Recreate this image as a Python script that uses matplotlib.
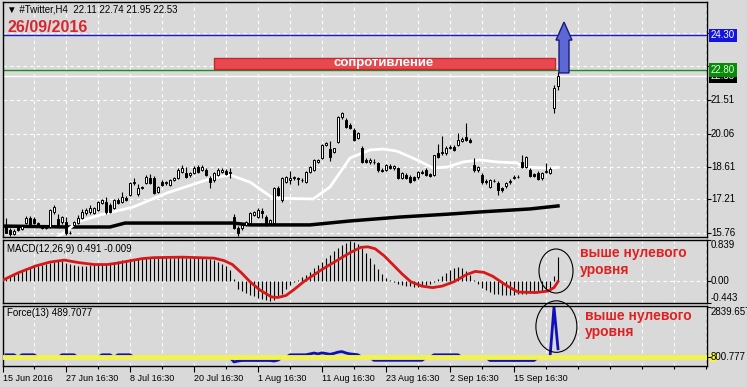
import matplotlib
matplotlib.use("Agg")
import numpy as np
import matplotlib.pyplot as plt
import matplotlib.transforms as mtrans
from matplotlib.patches import Rectangle, Polygon, Ellipse

plt.rcParams['font.family'] = ['Liberation Sans', 'DejaVu Sans']

W, H = 747, 387
bg = '#d9d9d9'

# H4 bars, 15 Jun - 26 Sep 2016
opens = [16.11, 15.89, 15.72, 16.02, 15.93, 16.19, 16.41, 16.37, 16.19, 16.06,
         15.98, 16.02, 16.67, 16.35, 16.23, 16.23, 15.78, 16.11, 16.19, 16.41,
         16.62, 16.67, 16.62, 16.75, 17.06, 17.10, 16.97, 16.84, 17.19, 17.10,
         17.27, 17.40, 17.92, 17.45, 17.72, 17.92, 18.14, 18.14, 17.53, 17.96,
         17.92, 17.83, 18.05, 18.14, 18.40, 18.35, 18.27, 18.35, 18.61, 18.48,
         18.48, 18.14, 18.05, 18.27, 18.40, 18.44, 18.35, 16.45, 15.98, 15.98,
         16.11, 16.19, 16.54, 16.45, 16.70, 16.45, 16.19, 16.19, 17.70, 17.19,
         17.96, 18.05, 18.14, 18.14, 18.05, 17.96, 18.40, 18.48, 18.83, 19.00,
         19.56, 19.40, 19.26, 19.69, 20.77, 20.64, 20.43, 20.21, 19.87, 19.43,
         18.92, 18.83, 18.85, 18.79, 18.48, 18.48, 18.66, 18.57, 18.57, 18.14,
         18.27, 18.18, 18.18, 18.18, 18.40, 18.48, 18.31, 18.27, 19.22, 19.22,
         19.22, 19.43, 19.48, 19.56, 19.74, 19.91, 19.78, 18.70, 18.48, 18.27,
         18.01, 17.75, 18.01, 17.92, 17.70, 17.79, 17.96, 18.14, 18.18, 18.83,
         18.61, 18.48, 18.31, 18.35, 18.14, 18.40, 18.35, 21.15, 22.11]
highs = [16.41, 15.98, 15.92, 16.10, 16.12, 16.50, 16.48, 16.45, 16.25, 16.12,
         16.05, 16.80, 16.95, 16.60, 16.50, 16.45, 15.85, 16.30, 16.55, 16.80,
         16.85, 16.95, 16.90, 17.15, 17.25, 17.30, 17.05, 17.22, 17.28, 17.53,
         17.36, 17.96, 18.14, 17.90, 17.80, 18.25, 18.30, 18.22, 17.78, 18.05,
         18.00, 18.10, 18.20, 18.55, 18.70, 18.62, 18.40, 18.65, 18.70, 18.70,
         18.55, 18.22, 18.40, 18.55, 18.55, 18.52, 18.57, 16.60, 16.05, 16.20,
         16.30, 16.67, 16.72, 16.85, 16.84, 16.55, 16.38, 17.75, 17.80, 18.20,
         18.22, 18.45, 18.22, 18.20, 18.12, 18.45, 18.65, 18.95, 18.98, 19.60,
         19.70, 19.72, 19.45, 20.80, 21.00, 20.75, 20.50, 20.30, 20.12, 19.50,
         19.00, 19.00, 18.95, 18.85, 18.55, 18.75, 18.75, 18.72, 18.62, 18.40,
         18.35, 18.25, 18.22, 18.45, 18.48, 18.55, 18.35, 19.15, 19.60, 19.95,
         19.50, 19.55, 19.55, 20.10, 19.90, 20.52, 19.85, 19.00, 18.65, 18.35,
         18.10, 18.10, 18.08, 18.00, 17.75, 17.98, 18.08, 18.25, 18.25, 19.13,
         19.10, 18.55, 18.35, 18.45, 18.40, 18.80, 18.60, 22.15, 22.74]
lows = [15.74, 15.65, 15.68, 15.85, 15.88, 16.15, 16.12, 16.15, 16.02, 15.95,
        15.93, 15.98, 16.60, 16.05, 16.15, 15.67, 15.70, 16.05, 16.15, 16.37,
        16.55, 16.60, 16.58, 16.70, 17.00, 16.60, 16.62, 16.80, 17.00, 17.05,
        17.15, 17.35, 17.85, 17.38, 17.65, 17.88, 17.88, 17.45, 17.48, 17.80,
        17.85, 17.80, 18.00, 18.10, 18.35, 18.15, 18.20, 18.30, 18.35, 18.44,
        18.22, 17.70, 17.98, 18.22, 18.35, 18.28, 18.14, 15.95, 15.62, 15.90,
        16.05, 16.15, 16.50, 16.40, 16.41, 16.05, 16.15, 16.15, 17.35, 17.10,
        17.92, 17.90, 18.05, 17.83, 17.95, 17.92, 18.35, 18.44, 18.78, 18.95,
        19.50, 18.88, 19.20, 19.65, 20.70, 20.30, 20.25, 19.75, 19.82, 18.80,
        18.78, 18.75, 18.75, 18.40, 18.38, 18.44, 18.52, 18.50, 18.10, 18.10,
        18.10, 17.92, 18.00, 18.10, 18.30, 18.22, 18.18, 18.22, 19.00, 19.15,
        19.15, 19.40, 19.30, 19.50, 19.68, 19.72, 19.65, 18.40, 18.40, 17.90,
        17.90, 17.70, 17.95, 17.40, 17.55, 17.72, 17.90, 18.10, 18.12, 18.55,
        18.55, 18.20, 18.18, 18.05, 18.05, 18.35, 18.30, 20.95, 21.95]
closes = [15.78, 15.70, 15.85, 15.89, 16.06, 16.41, 16.15, 16.19, 16.06, 15.98,
          16.01, 16.75, 16.88, 16.11, 16.45, 15.76, 15.74, 16.23, 16.41, 16.67,
          16.75, 16.84, 16.84, 17.10, 17.19, 16.67, 16.67, 17.19, 17.06, 17.32,
          17.19, 17.92, 17.96, 17.70, 17.75, 18.18, 17.92, 17.49, 17.75, 17.83,
          17.96, 18.05, 18.14, 18.48, 18.57, 18.18, 18.35, 18.57, 18.40, 18.61,
          18.27, 17.96, 18.35, 18.48, 18.48, 18.31, 18.40, 15.98, 15.76, 16.11,
          16.23, 16.62, 16.67, 16.75, 16.62, 16.11, 16.32, 17.70, 17.40, 18.14,
          18.18, 18.14, 18.18, 18.09, 18.07, 18.40, 18.61, 18.92, 18.92, 19.56,
          19.65, 19.05, 19.43, 20.77, 20.95, 20.34, 20.30, 19.78, 20.08, 18.83,
          18.83, 18.92, 18.83, 18.48, 18.46, 18.70, 18.57, 18.66, 18.14, 18.35,
          18.14, 17.96, 18.05, 18.40, 18.35, 18.27, 18.22, 19.13, 19.05, 19.26,
          19.43, 19.48, 19.35, 19.78, 19.82, 19.78, 19.69, 18.48, 18.61, 17.96,
          17.96, 18.05, 18.00, 17.62, 17.62, 17.92, 18.01, 18.18, 18.20, 18.61,
          19.05, 18.22, 18.22, 18.09, 18.35, 18.44, 18.52, 22.05, 22.53]

# moving averages (bar index, price)
ma_fast_idx = [11.75, 14.75, 17.75, 23.5, 31.75, 40.25, 48.5, 51.75, 56, 61, 66.75,
               76.75, 81, 86, 91, 94.25, 97.75, 102.75, 106.75, 110.25, 114.25,
               118.5, 122.75, 127.75, 129.25, 135.25, 138]
ma_fast_val = [15.46, 15.80, 16.23, 16.54, 16.88, 17.49, 17.96, 18.14, 18.27, 17.96, 17.27,
               17.23, 17.75, 19.00, 19.35, 19.39, 19.30, 18.92, 18.57, 18.61, 18.83,
               18.92, 18.83, 18.79, 18.61, 18.57, 18.60]
ma_slow_idx = [-0.75, 15.25, 26, 29.75, 51, 56.75, 61, 76, 86, 98.5, 111, 118.5, 131, 138]
ma_slow_val = [16.06, 16.02, 16.02, 16.19, 16.19, 16.19, 16.11, 16.11, 16.28, 16.45,
               16.58, 16.67, 16.80, 16.93]

# MACD(12,26,9)
macd_hist = [0.06, 0.10, 0.15, 0.19, 0.23, 0.26, 0.28, 0.30, 0.32, 0.34,
             0.36, 0.38, 0.40, 0.41, 0.41, 0.38, 0.35, 0.33, 0.32, 0.32,
             0.32, 0.33, 0.33, 0.34, 0.35, 0.36, 0.38, 0.40, 0.42, 0.43,
             0.44, 0.45, 0.46, 0.47, 0.48, 0.48, 0.48, 0.48, 0.48, 0.49,
             0.49, 0.48, 0.48, 0.49, 0.49, 0.48, 0.48, 0.48, 0.47, 0.47,
             0.46, 0.45, 0.43, 0.40, 0.36, 0.31, 0.22, 0.05, -0.15, -0.20,
             -0.24, -0.28, -0.31, -0.34, -0.37, -0.39, -0.40, -0.38, -0.33, -0.25,
             -0.15, -0.07, -0.02, 0.03, 0.08, 0.13, 0.19, 0.26, 0.33, 0.40,
             0.47, 0.54, 0.61, 0.67, 0.73, 0.78, 0.81, 0.80, 0.76, 0.68,
             0.58, 0.47, 0.36, 0.25, 0.15, 0.07, 0.02, -0.02, -0.05, -0.07,
             -0.09, -0.10, -0.11, -0.11, -0.10, -0.08, -0.05, -0.01, 0.04, 0.10,
             0.16, 0.22, 0.26, 0.28, 0.26, 0.20, 0.12, 0.03, -0.06, -0.13,
             -0.18, -0.22, -0.25, -0.27, -0.28, -0.29, -0.29, -0.28, -0.27, -0.26,
             -0.25, -0.24, -0.23, -0.22, -0.21, -0.20, -0.19, 0.10, 0.491]
sig_idx = [-0.6, 3, 7.4, 11, 14.6, 18.1, 22, 25.3, 28, 30.6, 34, 36.9, 44, 52, 54.5,
           56.6, 59, 61, 63.5, 66.4, 68, 70, 72, 74.4, 79, 83.3, 86, 88.7, 90.5, 92.3,
           94.5, 96.7, 99, 101.2, 104, 106.6, 109, 112, 115, 117.3, 119.5, 121.7,
           125, 128, 132.5, 135.5, 137, 138]
sig_val = [0.03, 0.17, 0.31, 0.39, 0.43, 0.38, 0.34, 0.34, 0.37, 0.41, 0.46, 0.48, 0.49,
           0.47, 0.42, 0.34, 0.16, -0.01, -0.18, -0.32, -0.33, -0.29, -0.17, -0.01,
           0.24, 0.45, 0.58, 0.69, 0.70, 0.66, 0.52, 0.34, 0.15, -0.01, -0.10, -0.13,
           -0.10, -0.01, 0.13, 0.20, 0.18, 0.10, -0.08, -0.22, -0.23, -0.20, -0.13,
           -0.009]

# Force(13)
force = [150, 150, 150, 0, 150, 150, 150, 150, 0, 0,
         0, 0, 0, 0, 150, 150, 150, 150, 0, 0,
         0, 0, 0, 0, 150, 150, 150, 0, 150, 150,
         150, 150, 0, 0, 0, 0, 0, 0, 0, 0,
         0, 0, 0, 0, 0, 0, 0, 0, 0, 0,
         0, 0, 0, 0, 0, 0, 0, -250, -200, -170,
         -170, -170, -170, -170, -170, -170, -170, -200, -150, 0,
         0, 150, 150, 150, 150, 150, 200, 250, 200, 260,
         220, 180, 230, 300, 330, 250, 200, 180, 150, 0,
         0, 0, -160, -160, -160, -160, -160, -160, -160, -160,
         -160, -160, -160, -160, -160, 0, 0, 150, 150, 150,
         150, 150, 150, 150, 0, 0, 0, 0, 0, 0,
         0, -170, -170, -170, -170, -170, -170, -170, -170, -170,
         -170, -170, -170, 0, 0, 0, 0, 2839.657, 489.7077]

price_ticks = [15.76, 17.21, 18.61, 20.06, 21.51, 22.96, 24.41]
price_labels = ['15.76', '17.21', '18.61', '20.06', '21.51']
date_idx = [-0.75, 15, 31, 47, 63, 79, 95, 111, 127]
date_labels = ['15 Jun 2016', '27 Jun 16:30', '8 Jul 16:30', '20 Jul 16:30', '1 Aug 16:30',
               '11 Aug 16:30', '23 Aug 16:30', '2 Sep 16:30', '15 Sep 16:30']
resistance = (22.85, 23.33)
blue_level = 24.30
green_level = 22.80
last_price = 22.53

idx = np.arange(len(closes))
grid_idx = np.arange(7, 176, 8)
lab_x = (711 - 3) / 704

fig = plt.figure(figsize=(W / 100, H / 100), dpi=100, facecolor=bg)


def panel(top, bottom):
    a = fig.add_axes([3 / W, 1 - bottom / H, 704 / W, (bottom - top) / H])
    a.set_facecolor(bg)
    for s in a.spines.values():
        s.set_color('black')
        s.set_linewidth(1)
    a.set_xlim(-0.75, 175.25)
    a.yaxis.tick_right()
    a.tick_params(axis='y', length=3, width=0.8, labelright=False, direction='out')
    a.tick_params(axis='x', bottom=False, labelbottom=False)
    for g in grid_idx:
        a.axvline(g, color='white', lw=0.8, ls=(0, (3, 3)), zorder=0.5)
    return a


def rlabel(a, y, s, va='center', **kw):
    tr = mtrans.blended_transform_factory(a.transAxes, a.transData)
    a.text(lab_x, y, s, transform=tr, va=va, ha='left', fontsize=7,
           clip_on=False, **kw)


# ---- price panel
ax = panel(2, 237)
ax.set_ylim(15.587, 25.747)
ax.set_yticks(price_ticks)
for p in price_ticks:
    ax.axhline(p, color='white', lw=0.8, ls=(0, (3, 3)), zorder=0.5)
for p, s in zip(price_ticks, price_labels):
    rlabel(ax, p, s)

ax.axhline(blue_level, color='#1c1cd0', lw=1, zorder=1)
ax.axhline(last_price, color='white', lw=1, zorder=1)
ax.axhline(green_level, color='#1e8c1e', lw=1, zorder=1)

ax.plot(ma_slow_idx, ma_slow_val, color='black', lw=2.5, zorder=2)
ax.plot(ma_fast_idx, ma_fast_val, color='white', lw=2, zorder=2)

o = np.array(opens)
c = np.array(closes)
ax.vlines(idx, lows, highs, color='black', lw=0.8, zorder=3)
bull = c >= o
ax.bar(idx, np.abs(c - o), bottom=np.minimum(o, c), width=0.7,
       color=np.where(bull, 'white', 'black'), edgecolor='black', linewidth=0.7, zorder=4)

ax.add_patch(Rectangle((52, resistance[0]), 85.25, resistance[1] - resistance[0],
                       fc='#e8484f', ec='#c02a30', lw=1, zorder=5))
ax.text(94.5, sum(resistance) / 2, 'сопротивление', color='white', fontsize=9.5,
        fontweight='bold', ha='center', va='center', zorder=6)

ax.add_patch(Polygon([(138.25, 22.68), (140.75, 22.68), (140.75, 24.10), (141.5, 24.10),
                      (139.5, 24.88), (137.5, 24.10), (138.25, 24.10)],
                     closed=True, fc='#5c68d4', ec='#1a1a7a', lw=1, zorder=6))

rlabel(ax, last_price, f'{last_price:.2f}', color='white',
       bbox=dict(boxstyle='square,pad=0.2', fc='black', ec='none'), zorder=7)
rlabel(ax, green_level, f'{green_level:.2f}', color='#d8ffd8',
       bbox=dict(boxstyle='square,pad=0.2', fc='#0a8a0a', ec='none'), zorder=8)
rlabel(ax, blue_level, f'{blue_level:.2f}', color='white',
       bbox=dict(boxstyle='square,pad=0.2', fc='#1414dc', ec='none'), zorder=8)

ax.text(0.006, 0.967, '\u25bc #Twitter,H4  22.11 22.74 21.95 22.53', transform=ax.transAxes,
        fontsize=7, ha='left', va='center')
ax.text(0.006, 0.893, '26/09/2016', transform=ax.transAxes, fontsize=11.5,
        fontweight='bold', color='#d8262e', ha='left', va='center')

# ---- MACD panel
axm = panel(240, 303)
axm.set_ylim(-0.443, 0.839)
axm.set_yticks([-0.443, 0, 0.839])
axm.axhline(0, color='white', lw=0.8, ls=(0, (3, 3)), zorder=0.5)
axm.vlines(idx, 0, macd_hist, color='black', lw=0.8, zorder=2)
axm.plot(sig_idx, sig_val, color='#d81818', lw=2, zorder=3)
rlabel(axm, 0.839, '0.839', va='top')
rlabel(axm, 0, '0.00')
rlabel(axm, -0.443, '-0.443', va='bottom')
axm.text(0.006, 0.86, 'MACD(12,26,9) 0.491 -0.009', transform=axm.transAxes,
         fontsize=7, ha='left', va='center')
axm.add_patch(Ellipse((137.5, 0.208), 8.5, 0.896, fill=False, ec='black', lw=0.8, zorder=4))
axm.text(143.5, 0.57, 'выше нулевого', color='#e02020', fontsize=10, fontweight='bold',
         ha='left', va='center')
axm.text(143.5, 0.23, 'уровня', color='#e02020', fontsize=10, fontweight='bold',
         ha='left', va='center')

# ---- Force panel
axf = panel(306, 366)
axf.set_ylim(-480, 2896)
axf.set_yticks([0, 2839.657])
axf.plot(idx, force, color='#1010b8', lw=2, zorder=2)
axf.axhline(0, color='#f2f250', lw=3.5, zorder=3)
rlabel(axf, 2839.657, '2839.657', va='top')
rlabel(axf, 0, '800.777')
tr = mtrans.blended_transform_factory(axf.transAxes, axf.transData)
axf.plot([1.008], [0], marker='o', ms=6, color='#f2f250', transform=tr, clip_on=False, zorder=1)
axf.text(0.006, 0.88, 'Force(13) 489.7077', transform=axf.transAxes,
         fontsize=7, ha='left', va='center')
axf.add_patch(Ellipse((137.6, 1738), 10.25, 2898, fill=False, ec='black', lw=0.8,
                      zorder=4, clip_on=False))
axf.text(144.75, 2318, 'выше нулевого', color='#e02020', fontsize=10, fontweight='bold',
         ha='left', va='center')
axf.text(144.75, 1448, 'уровня', color='#e02020', fontsize=10, fontweight='bold',
         ha='left', va='center')

axf.set_xticks(date_idx)
axf.set_xticklabels(date_labels)
axf.set_xticks(grid_idx, minor=True)
axf.tick_params(axis='x', which='major', bottom=True, labelbottom=True, length=4,
                width=0.8, labelsize=6.5, pad=2)
axf.tick_params(axis='x', which='minor', bottom=True, length=2, width=0.8)
for t in axf.get_xticklabels():
    t.set_ha('left')

fig.savefig('out.png', dpi=100, facecolor=bg)
